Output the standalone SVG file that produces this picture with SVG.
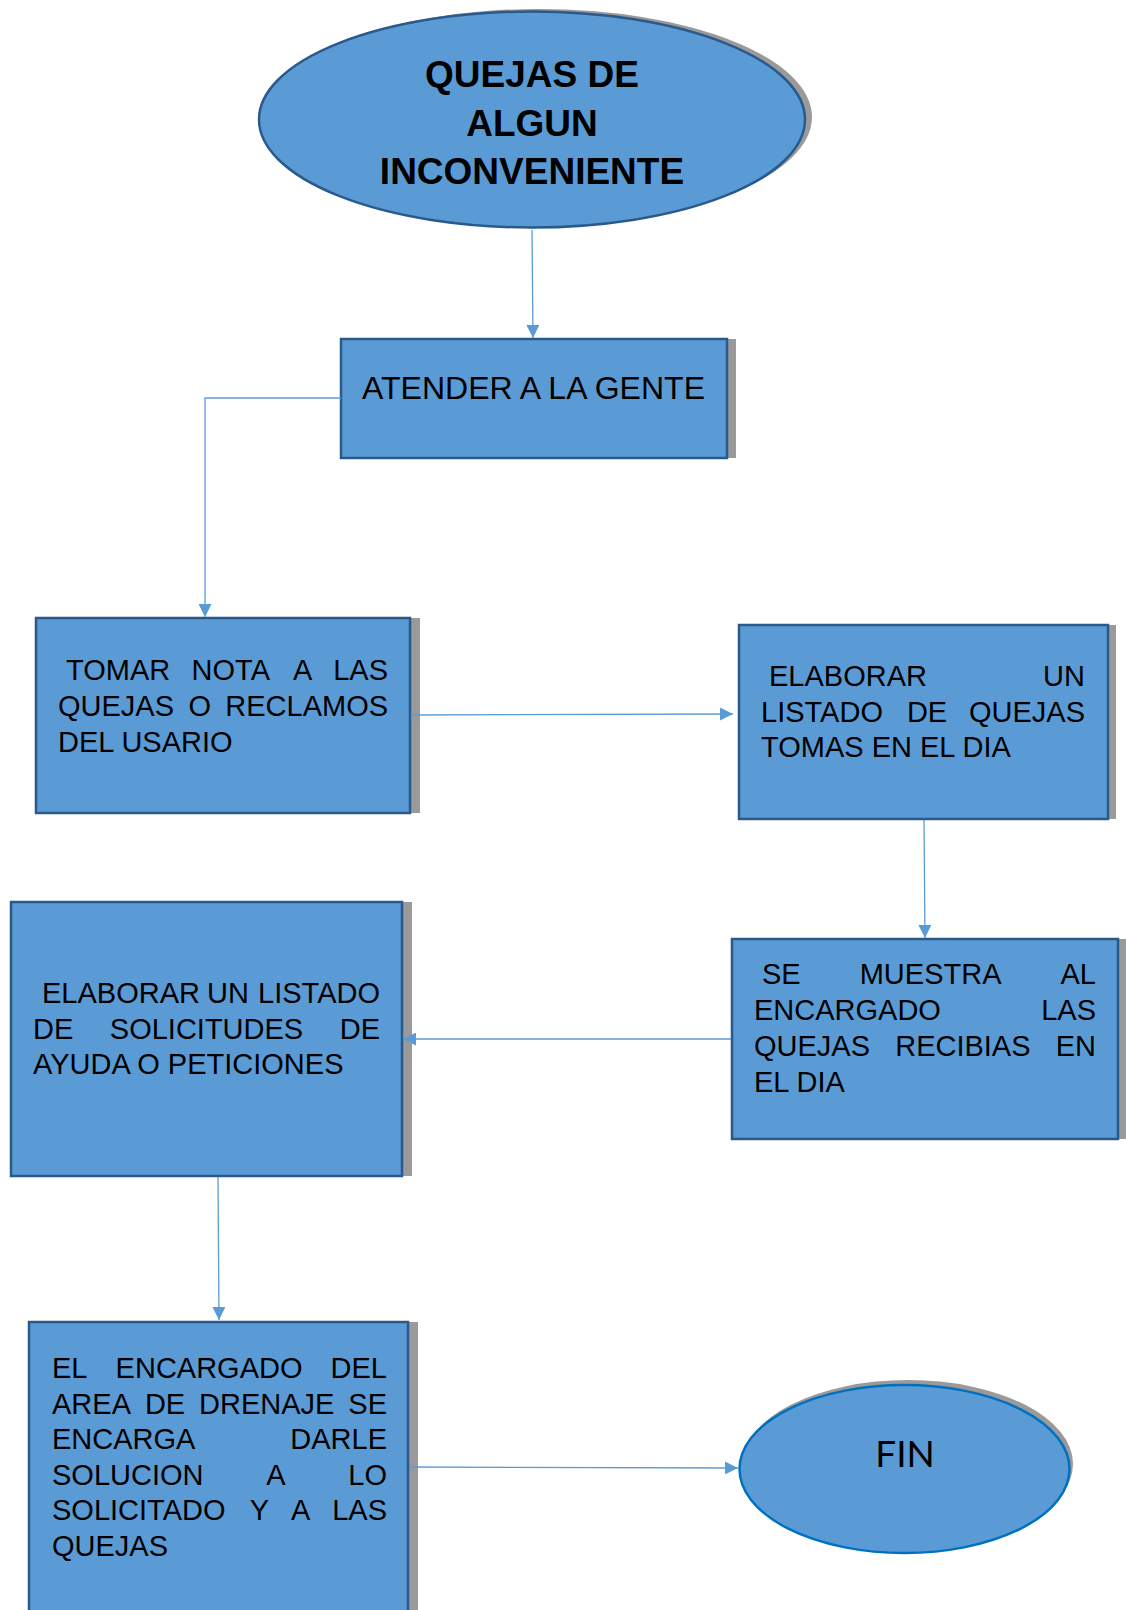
<svg xmlns="http://www.w3.org/2000/svg" width="1126" height="1610" viewBox="0 0 1126 1610">
<style>
.shadow{fill:#9a9a9a}
.box{fill:#5B9BD5;stroke:#2A5A8C;stroke-width:2.5}
.t{font-family:"Liberation Sans",Arial,sans-serif;font-size:29px;fill:#000}
.tb{font-family:"Liberation Sans",Arial,sans-serif;font-size:37px;font-weight:bold;fill:#000}
.conn{stroke:#5B9BD5;stroke-width:1.3;fill:none}
</style>
<defs>
<marker id="arr" markerUnits="userSpaceOnUse" markerWidth="15" markerHeight="13" refX="13" refY="6.5" orient="auto">
<path d="M0,0 L13,6.5 L0,13 Z" fill="#5B9BD5"/>
</marker>
</defs>
<rect width="1126" height="1610" fill="#fff"/>

<g id="n1">
<ellipse class="shadow" cx="539" cy="117" rx="273" ry="108"/>
<ellipse cx="532" cy="119.5" rx="273" ry="108" fill="#5B9BD5" stroke="#2A5A8C" stroke-width="2.5"/>
<text class="tb" x="532" y="87" text-anchor="middle">QUEJAS DE</text>
<text class="tb" x="532" y="135.5" text-anchor="middle">ALGUN</text>
<text class="tb" x="532" y="184" text-anchor="middle">INCONVENIENTE</text>
</g>

<g id="n2">
<rect class="shadow" x="349" y="339" width="387" height="119"/>
<rect class="box" x="341" y="339" width="386" height="119"/>
<text class="t" x="362" y="399" style="font-size:32px" textLength="343" lengthAdjust="spacingAndGlyphs">ATENDER A LA GENTE</text>
</g>

<g id="n3">
<rect class="shadow" x="44" y="618" width="376" height="195"/>
<rect class="box" x="36" y="618" width="374" height="195"/>
<text class="t" y="680"><tspan x="66">TOMAR</tspan><tspan x="191.6">NOTA</tspan><tspan x="293.1">A</tspan><tspan x="333.2">LAS</tspan></text>
<text class="t" y="716"><tspan x="58">QUEJAS</tspan><tspan x="188.4">O</tspan><tspan x="225.3">RECLAMOS</tspan></text>
<text class="t" x="58" y="752">DEL USARIO</text>
</g>

<g id="n4">
<rect class="shadow" x="747" y="625" width="369" height="194"/>
<rect class="box" x="739" y="625" width="369" height="194"/>
<text class="t" y="686"><tspan x="769">ELABORAR</tspan></text>
<text class="t" x="1085" y="686" text-anchor="end">UN</text>
<text class="t" y="722"><tspan x="761">LISTADO</tspan><tspan x="906.9">DE</tspan></text>
<text class="t" x="1085" y="722" text-anchor="end">QUEJAS</text>
<text class="t" x="761" y="757">TOMAS EN EL DIA</text>
</g>

<g id="n5">
<rect class="shadow" x="740" y="939" width="386" height="200"/>
<rect class="box" x="732" y="939" width="386" height="200"/>
<text class="t" y="984"><tspan x="762">SE</tspan><tspan x="859.7">MUESTRA</tspan></text>
<text class="t" x="1096" y="984" text-anchor="end">AL</text>
<text class="t" x="754" y="1020">ENCARGADO</text>
<text class="t" x="1096" y="1020" text-anchor="end">LAS</text>
<text class="t" y="1056"><tspan x="754">QUEJAS</tspan><tspan x="895.2">RECIBIAS</tspan></text>
<text class="t" x="1096" y="1056" text-anchor="end">EN</text>
<text class="t" x="754" y="1092">EL DIA</text>
</g>

<g id="n6">
<rect class="shadow" x="19" y="902" width="393" height="274"/>
<rect class="box" x="11" y="902" width="391" height="274"/>
<text class="t" y="1003"><tspan x="42">ELABORAR</tspan><tspan x="207">UN</tspan></text>
<text class="t" x="380" y="1003" text-anchor="end">LISTADO</text>
<text class="t" y="1039"><tspan x="33">DE</tspan><tspan x="109.8">SOLICITUDES</tspan></text>
<text class="t" x="380" y="1039" text-anchor="end">DE</text>
<text class="t" x="33" y="1074">AYUDA O PETICIONES</text>
</g>

<g id="n7">
<rect class="shadow" x="37" y="1322" width="381" height="300"/>
<rect class="box" x="29" y="1322" width="379" height="300"/>
<text class="t" y="1378"><tspan x="52">EL</tspan><tspan x="115.6">ENCARGADO</tspan></text>
<text class="t" x="387" y="1378" text-anchor="end">DEL</text>
<text class="t" y="1413.6"><tspan x="52">AREA</tspan><tspan x="144.9">DE</tspan><tspan x="199.1">DRENAJE</tspan></text>
<text class="t" x="387" y="1413.6" text-anchor="end">SE</text>
<text class="t" x="52" y="1449.2">ENCARGA</text>
<text class="t" x="387" y="1449.2" text-anchor="end">DARLE</text>
<text class="t" y="1484.8"><tspan x="52">SOLUCION</tspan><tspan x="266.3">A</tspan></text>
<text class="t" x="387" y="1484.8" text-anchor="end">LO</text>
<text class="t" y="1520.4"><tspan x="52">SOLICITADO</tspan><tspan x="249.7">Y</tspan><tspan x="291">A</tspan></text>
<text class="t" x="387" y="1520.4" text-anchor="end">LAS</text>
<text class="t" x="52" y="1556">QUEJAS</text>
</g>

<g id="n8">
<ellipse class="shadow" cx="908" cy="1464" rx="165" ry="84"/>
<ellipse cx="904.5" cy="1469" rx="165" ry="84" fill="#5B9BD5" stroke="#0070C0" stroke-width="2.5"/>
<text x="905" y="1467" text-anchor="middle" style="font-family:Lato,'Noto Sans',sans-serif;font-size:37px;fill:#000">FIN</text>
</g>

<g id="connectors">
<path class="conn" d="M532,230 L533,338" marker-end="url(#arr)"/>
<path class="conn" d="M341,398 L205,398 L205,617" marker-end="url(#arr)"/>
<path class="conn" d="M411,715 L733,714" marker-end="url(#arr)"/>
<path class="conn" d="M924,820 L925,938" marker-end="url(#arr)"/>
<path class="conn" d="M731,1039 L403,1039" marker-end="url(#arr)"/>
<path class="conn" d="M218,1177 L219,1320" marker-end="url(#arr)"/>
<path class="conn" d="M409,1467 L738,1468" marker-end="url(#arr)"/>
</g>
</svg>
